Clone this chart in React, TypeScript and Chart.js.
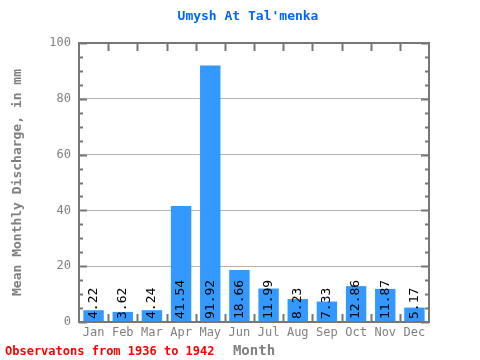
import React, { useEffect, useRef } from "react";
import { Chart, registerables } from "chart.js";

Chart.register(...registerables);

const months = ["Jan", "Feb", "Mar", "Apr", "May", "Jun", "Jul", "Aug", "Sep", "Oct", "Nov", "Dec"];
const discharge = [4.22, 3.62, 4.24, 41.54, 91.92, 18.66, 11.99, 8.23, 7.33, 12.86, 11.87, 5.17];
const labels = ["4.22", "3.62", "4.24", "41.54", "91.92", "18.66", "11.99", "8.23", "7.33", "12.86", "11.87", "5.17"];
const titleText = "Umysh At Tal'menka";
const noteText = "Observatons from 1936 to 1942";
const yTitle = "Mean Monthly Discharge, in mm";
const xTitle = "Month";

const MONO = "'DejaVu Sans Mono', monospace";

const framePlugin = {
  id: "frame",
  afterDatasetsDraw(chart: any) {
    const { ctx, scales } = chart;
    const y = scales.y;
    ctx.save();
    ctx.fillStyle = "#000";
    ctx.font = `13px ${MONO}`;
    ctx.textAlign = "left";
    ctx.textBaseline = "middle";
    const meta = chart.getDatasetMeta(0);
    meta.data.forEach((bar: any, i: number) => {
      ctx.save();
      ctx.translate(bar.x, y.getPixelForValue(0) - 3);
      ctx.rotate(-Math.PI / 2);
      ctx.fillText(labels[i], 0, 0);
      ctx.restore();
    });
    ctx.restore();
  },
  afterDraw(chart: any) {
    const { ctx, chartArea: a, scales } = chart;
    const y = scales.y;
    const x = scales.x;
    ctx.save();
    ctx.strokeStyle = "#777";
    ctx.lineWidth = 2;
    ctx.strokeRect(a.left, a.top, a.right - a.left, a.bottom - a.top);
    for (let v = 0; v <= 100; v += 5) {
      const py = Math.round(y.getPixelForValue(v)) + 0.5;
      const len = v % 20 === 0 ? 8 : 4;
      ctx.beginPath();
      ctx.moveTo(a.left, py);
      ctx.lineTo(a.left + len, py);
      ctx.moveTo(a.right, py);
      ctx.lineTo(a.right - len, py);
      ctx.stroke();
    }
    for (let i = 1; i < months.length; i++) {
      const px = Math.round((x.getPixelForValue(i - 1) + x.getPixelForValue(i)) / 2) + 0.5;
      ctx.beginPath();
      ctx.moveTo(px, a.top);
      ctx.lineTo(px, a.top + 8);
      ctx.moveTo(px, a.bottom);
      ctx.lineTo(px, a.bottom - 8);
      ctx.stroke();
    }
    ctx.fillStyle = "#0066ff";
    ctx.font = `bold 13px ${MONO}`;
    ctx.textAlign = "center";
    ctx.textBaseline = "middle";
    ctx.fillText(titleText, 248, 17);
    ctx.fillStyle = "#ff0000";
    ctx.font = `bold 12px ${MONO}`;
    ctx.textAlign = "left";
    ctx.fillText(noteText, 5, 352);
    ctx.restore();
  },
};

export default function App() {
  const ref = useRef<HTMLCanvasElement>(null);
  useEffect(() => {
    document.body.style.margin = "0";
    const chart = new Chart(ref.current!, {
      type: "bar",
      data: {
        labels: months,
        datasets: [
          {
            data: discharge,
            backgroundColor: "#3399ff",
            borderWidth: 0,
            categoryPercentage: 1,
            barPercentage: 0.7,
          },
        ],
      },
      options: {
        responsive: false,
        animation: false,
        layout: { padding: { top: 43, right: 51, left: 0, bottom: 0 } },
        plugins: { legend: { display: false }, title: { display: false }, tooltip: { enabled: false } },
        scales: {
          x: {
            afterFit: (s: any) => { s.height = 38; },
            grid: { display: false, drawTicks: false },
            border: { display: false },
            ticks: { color: "#808080", font: { family: MONO, size: 12 }, padding: 4, maxRotation: 0 },
            title: { display: true, text: xTitle, color: "#808080", font: { family: MONO, size: 14, weight: "bold" }, padding: { top: -4, bottom: 0 } },
          },
          y: {
            min: 0,
            max: 100,
            afterFit: (s: any) => { s.width = 79; },
            grid: {
              drawTicks: false,
              color: (c: any) => (c.tick && (c.tick.value === 0 || c.tick.value === 100) ? "rgba(0,0,0,0)" : "#b4b4b4"),
            },
            border: { display: false },
            ticks: { stepSize: 20, color: "#808080", font: { family: MONO, size: 12 }, padding: 8 },
            title: { display: true, text: yTitle, color: "#808080", font: { family: MONO, size: 13, weight: "bold" }, padding: { top: 10, bottom: 4 } },
          },
        },
      },
      plugins: [framePlugin],
    });
    return () => chart.destroy();
  }, []);
  return <canvas ref={ref} width={480} height={360} style={{ display: "block" }} />;
}
